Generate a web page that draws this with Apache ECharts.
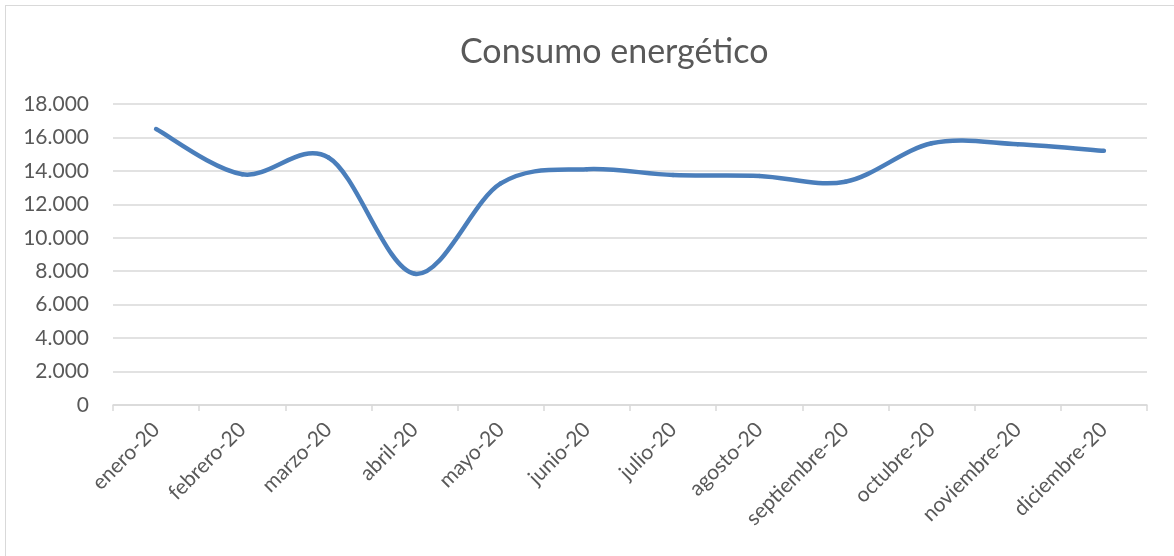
<!DOCTYPE html>
<html>
<head>
<meta charset="utf-8">
<script src="https://cdn.jsdelivr.net/npm/echarts@6/dist/echarts.min.js"></script>
<style>
  html, body { margin: 0; padding: 0; background: #ffffff; }
  #chart { width: 1174px; height: 556px; }
  #frame {
    position: absolute; left: 5px; top: 5px; width: 1300px; height: 700px;
    border: 1px solid #d9d9d9; pointer-events: none; box-sizing: border-box;
  }
</style>
</head>
<body>
<div id="chart"></div>
<div id="frame"></div>
<script>
// Monthly energy consumption, 2020
const months = [
  'enero-20', 'febrero-20', 'marzo-20', 'abril-20', 'mayo-20', 'junio-20',
  'julio-20', 'agosto-20', 'septiembre-20', 'octubre-20', 'noviembre-20', 'diciembre-20'
];
const consumo = [16500, 13800, 14800, 7850, 13250, 14100, 13750, 13700, 13350, 15650, 15600, 15200];
const yTickLabels = ['0', '2.000', '4.000', '6.000', '8.000', '10.000', '12.000', '14.000', '16.000', '18.000'];
const yStep = 2000;

const textColor = '#595959';
const gridColor = '#d9d9d9';
const lineColor = '#4a7ebb';
const fontFamily = 'Lato, "Open Sans", sans-serif';

// Smoothed line: each segment is a cubic Bezier whose control points follow
// the neighbouring points (Catmull-Rom style, tension 1/6).
function renderSmoothSegment(params, api) {
  const i = params.dataIndexInside;
  const n = params.dataInsideLength;
  if (i >= n - 1) return null;
  const clamp = j => Math.max(0, Math.min(n - 1, j));
  const pt = j => api.coord([api.value(0, clamp(j)), api.value(1, clamp(j))]);
  const p0 = pt(i - 1), p1 = pt(i), p2 = pt(i + 1), p3 = pt(i + 2);
  const t = 1 / 6;
  return {
    type: 'bezierCurve',
    shape: {
      x1: p1[0], y1: p1[1],
      x2: p2[0], y2: p2[1],
      cpx1: p1[0] + (p2[0] - p0[0]) * t,
      cpy1: p1[1] + (p2[1] - p0[1]) * t,
      cpx2: p2[0] - (p3[0] - p1[0]) * t,
      cpy2: p2[1] - (p3[1] - p1[1]) * t
    },
    style: { stroke: lineColor, lineWidth: 4.5, lineCap: 'round', fill: null }
  };
}

const chart = echarts.init(document.getElementById('chart'), null, { renderer: 'canvas' });
chart.setOption({
  backgroundColor: '#ffffff',
  animation: false,
  title: {
    text: 'Consumo energético',
    left: 455,
    top: 30,
    textStyle: { color: textColor, fontFamily, fontSize: 34, fontWeight: 'normal' }
  },
  grid: { left: 113, right: 27, top: 104, bottom: 151, containLabel: false },
  xAxis: {
    type: 'category',
    data: months,
    boundaryGap: true,
    axisLine: { show: true, lineStyle: { color: gridColor, width: 1.5 } },
    axisTick: { show: true, length: 6, lineStyle: { color: gridColor, width: 1.5 } },
    axisLabel: {
      rotate: 45, margin: 21, interval: 0,
      color: textColor, fontFamily, fontSize: 21
    },
    splitLine: { show: false }
  },
  yAxis: {
    type: 'value',
    min: 0,
    max: yStep * (yTickLabels.length - 1),
    interval: yStep,
    axisLine: { show: false },
    axisTick: { show: false },
    axisLabel: {
      margin: 24,
      color: textColor, fontFamily, fontSize: 21,
      formatter: v => yTickLabels[Math.round(v / yStep)]
    },
    splitLine: { lineStyle: { color: gridColor, width: 1.5 } }
  },
  series: [{
    name: 'Consumo energético',
    type: 'custom',
    data: consumo.map((v, k) => [k, v]),
    encode: { x: 0, y: 1 },
    renderItem: renderSmoothSegment
  }]
});
</script>
</body>
</html>
